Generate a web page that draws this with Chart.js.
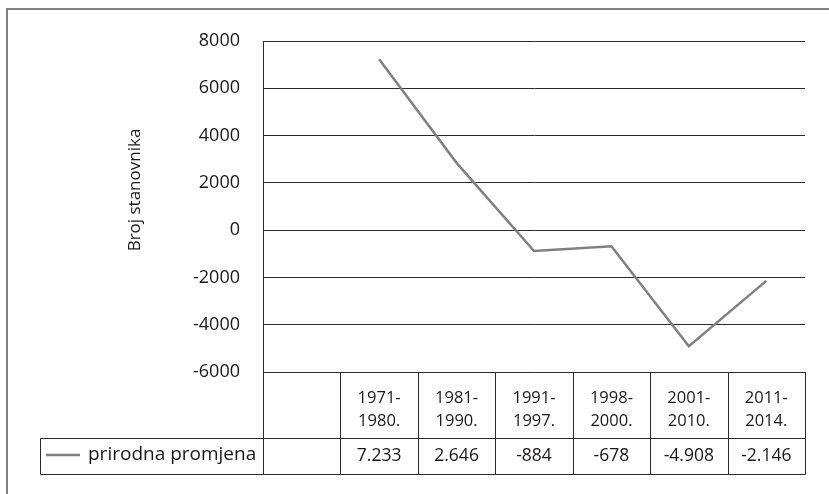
<!DOCTYPE html>
<html>
<head>
<meta charset="utf-8">
<script src="https://cdn.jsdelivr.net/npm/chart.js@4.4.0/dist/chart.umd.min.js"></script>
<style>
  html, body { margin: 0; padding: 0; background: #ffffff; }
  #wrap { width: 829px; height: 494px; position: relative; }
</style>
</head>
<body>
<div id="wrap"><canvas id="c" width="829" height="494"></canvas></div>
<script>
// ---- data ----
const categories = ['', '1971-\n1980.', '1981-\n1990.', '1991-\n1997.', '1998-\n2000.', '2001-\n2010.', '2011-\n2014.'];
const seriesName = 'prirodna promjena';
const seriesValues = [null, 7233, 2846, -884, -678, -4908, -2146];
const tableLabels = ['', '7.233', '2.646', '-884', '-678', '-4.908', '-2.146'];
const yTicks = [-6000, -4000, -2000, 0, 2000, 4000, 6000, 8000];
const yTitle = 'Broj stanovnika';

const FONT = '"Open Sans", "Noto Sans", sans-serif';
const TEXT = '#1a1718';
const LINE = '#808080';
const GRID = '#2a2a2a';

const tablePlugin = {
  id: 'tablePlugin',
  afterDraw(chart) {
    const ctx = chart.ctx;
    const xs = chart.scales.x;
    const a = chart.chartArea;
    const n = categories.length;
    const half = (xs.getPixelForValue(1) - xs.getPixelForValue(0)) / 2;
    const top = Math.round(a.bottom);
    const hb = top + 66;
    const db = hb + 36;
    ctx.save();
    // outer frame (top & left)
    ctx.strokeStyle = LINE;
    ctx.lineWidth = 2;
    ctx.beginPath();
    ctx.moveTo(7, 494); ctx.lineTo(7, 9); ctx.lineTo(829, 9);
    ctx.stroke();

    // table lines
    ctx.strokeStyle = GRID;
    ctx.lineWidth = 1;
    ctx.beginPath();
    const ax = Math.round(a.left) + 0.5;
    ctx.moveTo(ax, top); ctx.lineTo(ax, db + 0.5);
    for (let i = 0; i < n; i++) {
      const x = Math.round(xs.getPixelForValue(i) + half) + 0.5;
      ctx.moveTo(x, top); ctx.lineTo(x, db + 0.5);
    }
    ctx.moveTo(40.5, hb + 0.5); ctx.lineTo(Math.round(a.right) + 0.5, hb + 0.5);
    ctx.moveTo(40.5, db + 0.5); ctx.lineTo(Math.round(a.right) + 0.5, db + 0.5);
    ctx.moveTo(40.5, hb + 0.5); ctx.lineTo(40.5, db + 0.5);
    ctx.stroke();

    // header and value texts
    ctx.fillStyle = TEXT;
    ctx.textAlign = 'center';
    ctx.textBaseline = 'middle';
    for (let i = 0; i < n; i++) {
      const cx = xs.getPixelForValue(i);
      ctx.font = '16.5px ' + FONT;
      categories[i].split('\n').forEach((t, k) => ctx.fillText(t, cx, top + 26 + k * 23.5));
      ctx.font = '17.5px ' + FONT;
      ctx.fillText(tableLabels[i], cx, hb + 18);
    }
    // legend cell
    ctx.strokeStyle = LINE;
    ctx.lineWidth = 2.5;
    ctx.beginPath();
    ctx.moveTo(46, hb + 17); ctx.lineTo(80, hb + 17);
    ctx.stroke();
    ctx.font = '19px ' + FONT;
    ctx.textAlign = 'left';
    ctx.fillText(seriesName, 88, hb + 17);

    // y title
    ctx.translate(135, 190);
    ctx.rotate(-Math.PI / 2);
    ctx.textAlign = 'center';
    ctx.font = '17px ' + FONT;
    ctx.fillText(yTitle, 0, 0);
    ctx.restore();
  }
};

new Chart(document.getElementById('c'), {
  type: 'line',
  data: {
    labels: categories,
    datasets: [{
      label: seriesName,
      data: seriesValues,
      borderColor: LINE,
      borderWidth: 2.5,
      pointRadius: 0,
      tension: 0,
      fill: false,
      spanGaps: false
    }]
  },
  options: {
    responsive: false,
    animation: false,
    devicePixelRatio: 1,
    layout: { padding: { top: 41, right: 24, bottom: 122, left: 0 } },
    plugins: { legend: { display: false }, tooltip: { enabled: false } },
    scales: {
      x: {
        type: 'category',
        offset: true,
        display: false
      },
      y: {
        min: yTicks[0],
        max: yTicks[yTicks.length - 1],
        afterBuildTicks(scale) { scale.ticks = yTicks.map(v => ({ value: v })); },
        afterFit(scale) { scale.width = 263; },
        ticks: {
          padding: 23,
          color: TEXT,
          font: { family: FONT, size: 18 },
          callback: v => String(v)
        },
        grid: { color: GRID, lineWidth: 1, drawTicks: false },
        border: { color: GRID, width: 1 }
      }
    }
  },
  plugins: [tablePlugin]
});
</script>
</body>
</html>
